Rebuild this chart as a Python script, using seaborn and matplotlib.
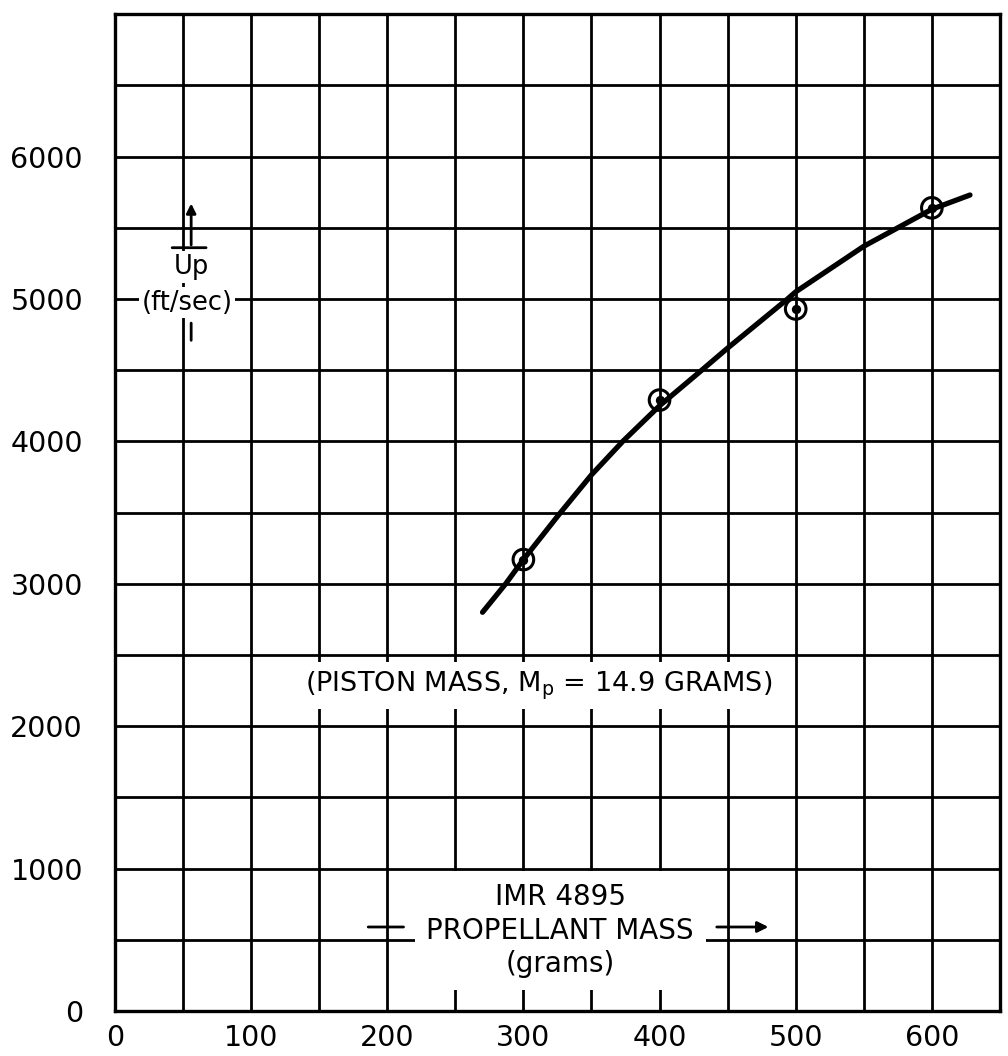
import matplotlib
matplotlib.use("Agg")
import matplotlib.pyplot as plt
import seaborn as sns
import pandas as pd
import numpy as np

# measured points (propellant mass in grams, piston velocity in ft/sec)
mass_pts = [300, 400, 500, 600]
up_pts = [3170, 4290, 4930, 5640]

# hand drawn fit curve
curve_mass = [270, 287, 300, 326, 350, 373, 400, 431, 450, 494, 500, 550, 575, 600, 628]
curve_up = [2800, 3000, 3170, 3485, 3765, 4000, 4250, 4500, 4655, 5000, 5050, 5370, 5500, 5630, 5730]

x_ticks = [0, 100, 200, 300, 400, 500, 600]
y_ticks = [0, 1000, 2000, 3000, 4000, 5000, 6000]

pts = pd.DataFrame({"mass": mass_pts, "up": up_pts})
curve = pd.DataFrame({"mass": curve_mass, "up": curve_up})

sns.set_style("white")
plt.rcParams['font.family'] = ['DejaVu Sans']
plt.rcParams['text.color'] = 'black'
plt.rcParams['xtick.color'] = 'black'
plt.rcParams['ytick.color'] = 'black'

fig = plt.figure(figsize=(10.08, 10.56), dpi=100)
ax = fig.add_axes([0.114, 0.0426, 0.878, 0.944])

# grid every 50 g / 500 ft/sec
ax.set_xlim(0, 650)
ax.set_ylim(0, 7000)
ax.set_xticks(x_ticks)
ax.set_yticks(y_ticks)
ax.set_xticks(np.arange(0, 651, 50), minor=True)
ax.set_yticks(np.arange(0, 7001, 500), minor=True)
ax.grid(which="both", color="black", linewidth=2.0)
ax.set_axisbelow(True)
ax.tick_params(which="both", length=0)
ax.tick_params(axis="x", labelsize=20.5, pad=9)
ax.tick_params(axis="y", labelsize=20.5, pad=23)
for s in ax.spines.values():
    s.set_color("black")
    s.set_linewidth(2.4)

sns.lineplot(data=curve, x="mass", y="up", color="black", linewidth=3.8,
             sort=False, ax=ax, zorder=3, solid_capstyle="round")
sns.scatterplot(data=pts, x="mass", y="up", marker="o", s=220,
                facecolors="none", edgecolor="black", linewidth=2.2, ax=ax, zorder=4)
sns.scatterplot(data=pts, x="mass", y="up", marker="o", s=45,
                color="black", linewidth=0, ax=ax, zorder=4)
ax.set_xlabel("")
ax.set_ylabel("")

white = dict(facecolor="white", edgecolor="none", pad=2)

# y-axis label block
ax.text(56, 5225, "Up", fontsize=18.5, ha="center", va="center", bbox=white, zorder=5)
ax.text(53, 4975, "(ft/sec)", fontsize=18.5, ha="center", va="center", bbox=white, zorder=5)
ax.annotate("", xy=(40, 5360), xytext=(69, 5360),
            arrowprops=dict(arrowstyle="-", lw=2, color="black"), zorder=6)
ax.annotate("", xy=(56, 5690), xytext=(56, 5360),
            arrowprops=dict(arrowstyle="-|>", lw=2, color="black", mutation_scale=14), zorder=6)
ax.annotate("", xy=(56, 4690), xytext=(56, 4850),
            arrowprops=dict(arrowstyle="-", lw=2, color="black"), zorder=6)

# curve note
ax.text(311, 2285, "(PISTON MASS, M$_\\mathregular{p}$ = 14.9 GRAMS)", fontsize=19.5,
        ha="center", va="center", bbox=dict(facecolor="white", edgecolor="none", pad=5),
        zorder=5)

# x-axis label block
ax.text(327, 565, "IMR 4895\nPROPELLANT MASS\n(grams)", fontsize=20,
        ha="center", va="center", linespacing=1.27,
        bbox=dict(facecolor="white", edgecolor="none", pad=8.5), zorder=5)
ax.annotate("", xy=(184, 590), xytext=(214, 590),
            arrowprops=dict(arrowstyle="-", lw=2, color="black"), zorder=6)
ax.annotate("", xy=(482, 590), xytext=(440, 590),
            arrowprops=dict(arrowstyle="-|>", lw=2, color="black", mutation_scale=16), zorder=6)

plt.savefig("out.png", dpi=100)
